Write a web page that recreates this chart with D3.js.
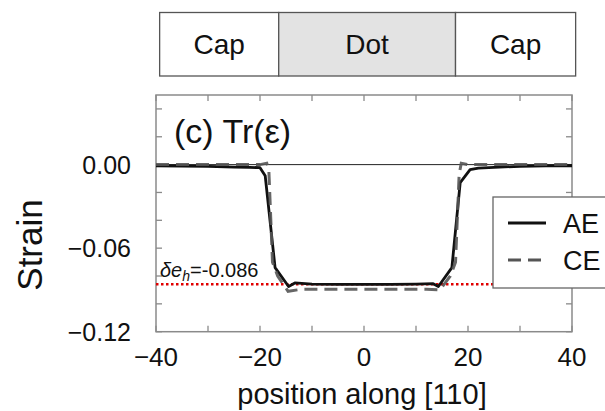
<!DOCTYPE html>
<html><head><meta charset="utf-8">
<script src="https://cdn.jsdelivr.net/npm/d3@7"></script>
<style>body{margin:0;background:#fff}svg{display:block;font-family:"Liberation Sans",Arial,sans-serif}</style>
</head><body><svg id="c" width="605" height="411"></svg>
<script>
// Data
const aeX = [-40,-35,-30,-25,-22,-20,-19,-17.1,-14.5,-13.3,-10,-5,0,5,10,13.3,14.3,16.9,18.5,20.4,22,25,30,35,40];
const aeY = [-0.0008,-0.001,-0.0012,-0.0018,-0.002,-0.0022,-0.008,-0.074,-0.0875,-0.085,-0.0858,-0.086,-0.086,-0.086,-0.0858,-0.0855,-0.0875,-0.074,-0.013,-0.0036,-0.0025,-0.002,-0.0012,-0.0009,-0.0008];
const ceX = [-40,-30,-25,-20,-18.7,-18.3,-17.6,-16.6,-14.6,-12,-5,0,5,12,14.6,16.6,17.6,18.3,18.7,20,25,30,40];
const ceY = [0,0,0,0,0.001,-0.004,-0.07,-0.08,-0.091,-0.0895,-0.0895,-0.0895,-0.0895,-0.0895,-0.09,-0.08,-0.07,-0.007,0.001,0,0,0,0];
const xTicks = [-40,-20,0,20,40];
const xMinor = [-30,-10,10,30];
const yTicks = [0,-0.06,-0.12];
const yMinor = [0.04,0.02,-0.02,-0.04,-0.08,-0.1];
const regions = ["Cap","Dot","Cap"];
const regionEdges = [-39.3,-16.4,17.6,40.7];
const refValue = -0.086;
const seriesNames = ["AE","CE"];

const svg = d3.select("#c");
const L=156,R=572,T=95,B=331.7;
const x = d3.scaleLinear().domain([-40,40]).range([L,R]);
const y = d3.scaleLinear().domain([-0.12,0.05]).range([B,T]);

// Region box
const rg = svg.append("g");
regions.forEach((r,i)=>{
  const x0=x(regionEdges[i]), x1=x(regionEdges[i+1]);
  rg.append("rect").attr("x",x0).attr("y",12.5).attr("width",x1-x0).attr("height",63.5)
    .attr("fill", r==="Dot"?"#e3e3e3":"#fff").attr("stroke","#555").attr("stroke-width",1.3);
  rg.append("text").attr("x",(x0+x1)/2).attr("y",54).attr("text-anchor","middle")
    .attr("font-size",28).attr("fill","#111").text(r);
});

// Frame
const axc="#8a8a8a";
svg.append("rect").attr("x",L).attr("y",T).attr("width",R-L).attr("height",B-T)
  .attr("fill","none").attr("stroke",axc).attr("stroke-width",1.5);
const tk=6;
[...xTicks,...xMinor].forEach(v=>{
  svg.append("line").attr("x1",x(v)).attr("x2",x(v)).attr("y1",B).attr("y2",B-tk).attr("stroke",axc).attr("stroke-width",1.3);
  svg.append("line").attr("x1",x(v)).attr("x2",x(v)).attr("y1",T).attr("y2",T+tk).attr("stroke",axc).attr("stroke-width",1.3);
});
[...yTicks,...yMinor].forEach(v=>{
  svg.append("line").attr("x1",L).attr("x2",L+tk).attr("y1",y(v)).attr("y2",y(v)).attr("stroke",axc).attr("stroke-width",1.3);
  svg.append("line").attr("x1",R).attr("x2",R-tk).attr("y1",y(v)).attr("y2",y(v)).attr("stroke",axc).attr("stroke-width",1.3);
});
const fmt = v => (v<0?"\u2212":"") + Math.abs(v).toFixed(2);
yTicks.forEach(v=>{
  svg.append("text").attr("x",131).attr("y",y(v)+9).attr("text-anchor","end")
    .attr("font-size",25).attr("fill","#111").text(fmt(v));
});
xTicks.forEach(v=>{
  svg.append("text").attr("x",x(v)).attr("y",366).attr("text-anchor","middle")
    .attr("font-size",26).attr("fill","#111").text(v<0?"\u2212"+Math.abs(v):v);
});
svg.append("text").attr("x",362).attr("y",404).attr("text-anchor","middle")
  .attr("font-size",29).attr("fill","#111").text("position along [110]");
svg.append("text").attr("transform","translate(42,245) rotate(-90)").attr("text-anchor","middle")
  .attr("font-size",35).attr("fill","#111").text("Strain");
svg.append("text").attr("x",174).attr("y",143).attr("font-size",34).attr("fill","#111").text("(c) Tr(\u03b5)");

// zero line
svg.append("line").attr("x1",L).attr("x2",R).attr("y1",y(0)).attr("y2",y(0)).attr("stroke","#222").attr("stroke-width",1);

// reference line
svg.append("line").attr("x1",L).attr("x2",493).attr("y1",y(refValue)).attr("y2",y(refValue))
  .attr("stroke","#e00000").attr("stroke-width",2.5).attr("stroke-dasharray","2.5,2.5");
const lab = svg.append("text").attr("x",160).attr("y",y(refValue)-7).attr("font-size",20).attr("fill","#111");
lab.append("tspan").attr("font-style","italic").text("\u03b4e");
lab.append("tspan").attr("font-style","italic").attr("font-size",14).attr("dy",4).text("h");
lab.append("tspan").attr("dy",-4).text("=" + refValue.toString());

// curves
const line = d3.line().x(d=>x(d[0])).y(d=>y(d[1]));
const ae = aeX.map((v,i)=>[v,aeY[i]]);
const ce = ceX.map((v,i)=>[v,ceY[i]]);
svg.append("path").attr("d",line(ae)).attr("fill","none").attr("stroke","#111").attr("stroke-width",2.8).attr("stroke-linejoin","round");
svg.append("path").attr("d",line(ce)).attr("fill","none").attr("stroke","#555").attr("stroke-width",3).attr("stroke-dasharray","13,7").attr("opacity",0.9);

// legend
const lg = svg.append("g");
lg.append("rect").attr("x",493).attr("y",197).attr("width",130).attr("height",91)
  .attr("fill","#fff").attr("stroke","#666").attr("stroke-width",1.3);
const ly=[223,260];
seriesNames.forEach((n,i)=>{
  const l = lg.append("line").attr("x1",508).attr("x2",546).attr("y1",ly[i]).attr("y2",ly[i])
    .attr("stroke",i?"#555":"#111").attr("stroke-width",i?3:2.8);
  if(i) l.attr("stroke-dasharray","13,7");
  lg.append("text").attr("x",563).attr("y",ly[i]+10).attr("font-size",27).attr("fill","#111").text(n);
});
</script></body></html>
